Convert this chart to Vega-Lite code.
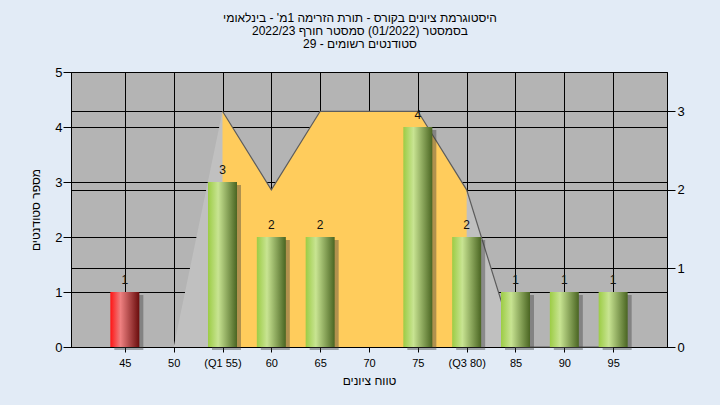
{
  "$schema": "https://vega.github.io/schema/vega-lite/v6.json",
  "width": 596,
  "height": 275,
  "autosize": "none",
  "padding": {"left": 71, "top": 72, "right": 53, "bottom": 58},
  "background": "#e2ebf6",
  "config": {
    "view": {"fill": "#b4b4b4", "stroke": "#000", "strokeWidth": 1},
    "font": "Liberation Sans",
    "axis": {
      "gridColor": "#000", "gridOpacity": 1, "gridWidth": 1,
      "domainColor": "#000", "tickColor": "#000",
      "labelColor": "#000", "titleColor": "#000",
      "labelFont": "Liberation Sans", "titleFont": "Liberation Sans",
      "titleFontWeight": "normal"
    }
  },
  "title": {
    "text": [
      "היסטוגרמת ציונים בקורס - תורת הזרימה 1מ' - בינלאומי",
      "בסמסטר  (01/2022)  סמסטר חורף 2022/23",
      "סטודנטים רשומים - 29"
    ],
    "fontSize": 12,
    "fontWeight": "normal",
    "color": "#000",
    "anchor": "middle",
    "dx": -9,
    "offset": 15,
    "lineHeight": 13
  },
  "datasets": {
    "hist": [
      {"score": 45, "count": 1},
      {"score": 50, "count": 0},
      {"score": 55, "count": 3},
      {"score": 60, "count": 2},
      {"score": 65, "count": 2},
      {"score": 70, "count": 0},
      {"score": 75, "count": 4},
      {"score": 80, "count": 2},
      {"score": 85, "count": 1},
      {"score": 90, "count": 1},
      {"score": 95, "count": 1}
    ],
    "poly": [
      {"score": 45, "students": 0},
      {"score": 50, "students": 0},
      {"score": 55, "students": 3},
      {"score": 60, "students": 2},
      {"score": 65, "students": 3},
      {"score": 70, "students": 3},
      {"score": 75, "students": 3},
      {"score": 80, "students": 2},
      {"score": 85, "students": 0},
      {"score": 90, "students": 0},
      {"score": 95, "students": 0}
    ]
  },
  "encoding": {
    "x": {
      "field": "score",
      "type": "quantitative",
      "scale": {"domain": [40, 100], "nice": false, "zero": false},
      "axis": {
        "values": [45, 50, 55, 60, 65, 70, 75, 80, 85, 90, 95],
        "grid": true,
        "labelExpr": "datum.value == 55 ? '(Q1 55)' : datum.value == 80 ? '(Q3 80)' : datum.label",
        "title": "טווח ציונים",
        "tickSize": 5,
        "labelFontSize": 11,
        "labelPadding": 5,
        "titleFontSize": 12,
        "titlePadding": 7
      }
    }
  },
  "layer": [
    {
      "data": {"name": "poly"},
      "encoding": {
        "y": {
          "field": "students",
          "type": "quantitative",
          "scale": {"domain": [0, 3.5], "nice": false},
          "axis": {
            "orient": "right",
            "values": [0, 1, 2, 3],
            "grid": true,
            "title": null,
            "tickSize": 8,
            "labelPadding": 2,
            "labelFontSize": 13
          }
        }
      },
      "layer": [
        {"mark": {"type": "area", "color": "#c0c0c0", "opacity": 1}},
        {
          "transform": [{"filter": "datum.score >= 55 && datum.score <= 80"}],
          "mark": {"type": "area", "color": "#ffcc5c", "opacity": 1}
        },
        {
          "transform": [{"filter": "datum.score >= 55"}],
          "mark": {"type": "line", "color": "#5c5c5c", "strokeWidth": 1.2}
        }
      ]
    },
    {
      "data": {"name": "hist"},
      "encoding": {
        "y": {
          "field": "count",
          "type": "quantitative",
          "scale": {"domain": [0, 5], "nice": false},
          "axis": {
            "orient": "left",
            "values": [0, 1, 2, 3, 4, 5],
            "grid": true,
            "title": "מספר סטודנטים",
            "titleFontSize": 12,
            "titlePadding": 12,
            "tickSize": 8,
            "labelPadding": 1,
            "labelFontSize": 13
          }
        }
      },
      "layer": [
        {
          "transform": [{"filter": "datum.count > 0"}],
          "mark": {"type": "bar", "size": 29, "color": "#3a3a3a", "opacity": 0.4, "xOffset": 4, "yOffset": 3}
        },
        {
          "transform": [{"filter": "datum.count > 0"}],
          "mark": {"type": "bar", "size": 29},
          "encoding": {
            "color": {
              "condition": {
                "test": "datum.score < 50",
                "value": {
                  "gradient": "linear", "x1": 0, "x2": 1, "y1": 0, "y2": 0,
                  "stops": [
                    {"offset": 0, "color": "#ff1414"},
                    {"offset": 0.35, "color": "#ee8080"},
                    {"offset": 1, "color": "#6a0c0c"}
                  ]
                }
              },
              "value": {
                "gradient": "linear", "x1": 0, "x2": 1, "y1": 0, "y2": 0,
                "stops": [
                  {"offset": 0, "color": "#9ccc45"},
                  {"offset": 0.35, "color": "#c8e492"},
                  {"offset": 1, "color": "#4a6522"}
                ]
              }
            }
          }
        },
        {
          "transform": [{"filter": "datum.count > 0"}],
          "mark": {"type": "text", "baseline": "middle", "dy": -12, "fontSize": 12, "color": "#111"},
          "encoding": {"text": {"field": "count", "type": "quantitative"}}
        },
        {
          "data": {"values": [{"label": "במשימה : Final_A"}]},
          "mark": {"type": "text", "fontSize": 12, "color": "#1a1a3a", "baseline": "middle"},
          "encoding": {
            "x": {"datum": 70},
            "y": {"datum": 4.75},
            "text": {"field": "label", "type": "nominal"}
          }
        }
      ]
    }
  ],
  "resolve": {"scale": {"y": "independent"}}
}
